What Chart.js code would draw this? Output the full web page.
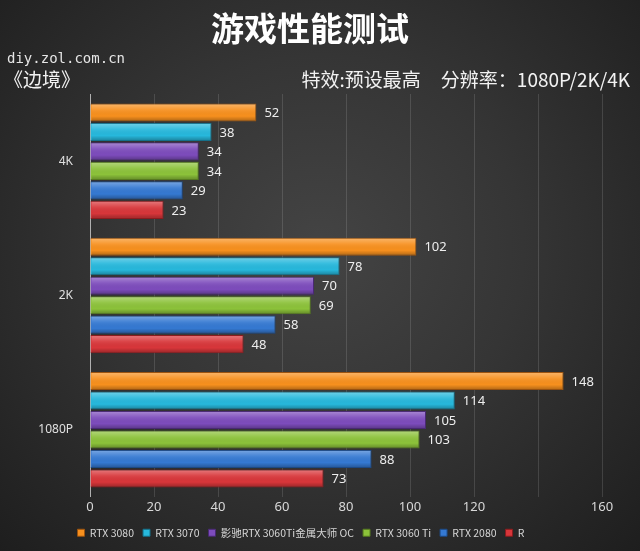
<!DOCTYPE html>
<html>
<head>
<meta charset="utf-8">
<script src="https://cdn.jsdelivr.net/npm/chart.js@4.4.1/dist/chart.umd.min.js"></script>
<style>
  html, body { margin: 0; padding: 0; }
  #wrap {
    position: relative; width: 640px; height: 551px; overflow: hidden;
    background: radial-gradient(ellipse at 50% 45%, #444444 0%, #353535 45%, #1e1e1e 100%);
    font-family: "Noto Sans CJK SC", "Noto Sans", sans-serif;
  }
  #wrap canvas { position: absolute; left: 0; top: 0; }
  .txt { position: absolute; color: #f2f2f2; white-space: nowrap; }
  #title { left: 0; width: 620px; top: 3px; text-align: center; font-size: 33px; font-weight: bold; color: #fff; }
  #site { left: 7px; top: 50px; font-family: "DejaVu Sans Mono", monospace; font-size: 14px; color: #e6e6e6; }
  #game { left: 4px; top: 65px; font-size: 19px; }
  #spec { right: 10px; top: 65px; font-size: 19px; }
  #spec span { margin-left: 20px; }
</style>
</head>
<body>
<div id="wrap">
  <canvas id="perfChart" width="640" height="551"></canvas>
  <div class="txt" id="title">游戏性能测试</div>
  <div class="txt" id="site">diy.zol.com.cn</div>
  <div class="txt" id="game">《边境》</div>
  <div class="txt" id="spec">特效:预设最高<span>分辨率：1080P/2K/4K</span></div>
</div>
<script>
// resolutions, top to bottom
var resolutions = ['4K', '2K', '1080P'];

// card names as shown in the legend (the last one is cut off in the source)
var cardNames = ['RTX 3080', 'RTX 3070', '影驰RTX 3060Ti金属大师 OC', 'RTX 3060 Ti', 'RTX 2080', 'R'];

// fps per card, in the order of resolutions
var rtx3080 = [52, 102, 148];
var rtx3070 = [38, 78, 114];
var galax3060Ti = [34, 70, 105];
var rtx3060Ti = [34, 69, 103];
var rtx2080 = [29, 58, 88];
var cardR = [23, 48, 73];

// x axis ticks, 140 is hidden behind the watermark in the source
var xTickLabels = ['0', '20', '40', '60', '80', '100', '120', '', '160'];

var barColors = ['#f7901e', '#27b8dc', '#7d4cbc', '#8cc23a', '#3579d2', '#d8363a'];
var edgeColors = ['#9c5410', '#157089', '#4a2a74', '#567a20', '#1d4985', '#8a1c1f'];

var seriesValues = [rtx3080, rtx3070, galax3060Ti, rtx3060Ti, rtx2080, cardR];

var datasets = seriesValues.map(function(vals, i) {
  return {
    label: cardNames[i],
    data: vals,
    backgroundColor: barColors[i],
    borderColor: edgeColors[i],
    borderWidth: 1,
    categoryPercentage: 0.87,
    barPercentage: 0.93
  };
});

// glossy shading on top of every bar, so they look a bit like the 3D bars
var shadePlugin = {
  id: 'shade',
  afterDatasetsDraw: function(chart) {
    var ctx = chart.ctx;
    chart.data.datasets.forEach(function(ds, i) {
      chart.getDatasetMeta(i).data.forEach(function(bar) {
        var p = bar.getProps(['x', 'y', 'base', 'height'], true);
        var top = p.y - p.height / 2;
        var g = ctx.createLinearGradient(0, top, 0, top + p.height);
        g.addColorStop(0, 'rgba(255,255,255,0.35)');
        g.addColorStop(0.35, 'rgba(255,255,255,0.08)');
        g.addColorStop(0.7, 'rgba(0,0,0,0)');
        g.addColorStop(1, 'rgba(0,0,0,0.3)');
        ctx.save();
        ctx.fillStyle = g;
        ctx.fillRect(p.base + 1, top + 1, p.x - p.base - 2, p.height - 2);
        ctx.restore();
      });
    });
  }
};

// value next to the end of each bar
var valueLabels = {
  id: 'valueLabels',
  afterDatasetsDraw: function(chart) {
    var ctx = chart.ctx;
    ctx.save();
    ctx.font = '13px "Noto Sans", sans-serif';
    ctx.fillStyle = '#eeeeee';
    ctx.textAlign = 'left';
    ctx.textBaseline = 'middle';
    chart.data.datasets.forEach(function(ds, i) {
      chart.getDatasetMeta(i).data.forEach(function(bar, j) {
        ctx.fillText(ds.data[j], bar.x + 8, bar.y + 1);
      });
    });
    ctx.restore();
  }
};

var chart = new Chart(document.getElementById('perfChart'), {
  type: 'bar',
  data: { labels: resolutions, datasets: datasets },
  plugins: [shadePlugin, valueLabels],
  options: {
    indexAxis: 'y',
    responsive: false,
    animation: false,
    layout: { padding: { left: 0, right: 38, top: 94, bottom: 3 } },
    scales: {
      x: {
        min: 0,
        max: 160,
        ticks: {
          stepSize: 20,
          color: '#d8d8d8',
          font: { size: 13, family: '"Noto Sans", sans-serif' },
          padding: 3,
          callback: function(v, idx) { return xTickLabels[idx]; }
        },
        grid: { color: 'rgba(255,255,255,0.13)', drawTicks: false },
        border: { display: false }
      },
      y: {
        afterFit: function(scale) { scale.width = 90; },
        ticks: {
          color: '#e0e0e0',
          font: { size: 12, family: '"Noto Sans", sans-serif' },
          padding: 9
        },
        grid: { display: false },
        border: { color: '#b0b0b0', width: 1 }
      }
    },
    plugins: {
      legend: {
        position: 'bottom',
        labels: {
          color: '#d6d6d6',
          boxWidth: 7,
          boxHeight: 7,
          padding: 9,
          font: { size: 10.5, family: '"Noto Sans CJK SC", sans-serif' }
        }
      },
      tooltip: { enabled: false }
    }
  }
});
</script>
</body>
</html>
